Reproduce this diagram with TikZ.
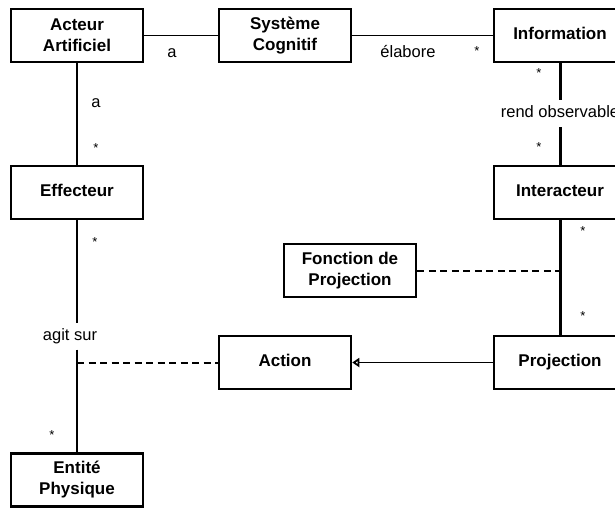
\documentclass[tikz,border=0pt]{standalone}
\usepackage{fontspec}
\setmainfont{Liberation Sans}
\usetikzlibrary{arrows.meta}
\begin{document}
\begin{tikzpicture}[x=1pt,y=-1pt,
  cls/.style={draw, line width=2.5pt, minimum width=132pt, minimum height=53pt, inner sep=0pt, align=center,
    font=\fontsize{17}{21}\selectfont\bfseries},
  cls1/.style={cls, text height=11pt, text depth=4pt},
  lbl/.style={font=\fontsize{16.5}{19}\selectfont, inner sep=0pt, anchor=base},
  gaplbl/.style={lbl, text height=12pt, text depth=5pt, inner ysep=5pt},
  mult/.style={font=\fontsize{13}{13}\selectfont, inner sep=0pt, anchor=base},
  assoc/.style={line width=1.9pt},
  vassoc/.style={line width=2.2pt},
  thickassoc/.style={line width=3pt},
  dep/.style={line width=2pt, dash pattern=on 7pt off 4.5pt}]
\useasboundingbox (0,0) rectangle (615,507);
\clip (0,0) rectangle (615,507);

% classes
\node[cls] (aa) at (77,35.5) {Acteur\\Artificiel};
\node[cls] (sc) at (285,35.5) {Système\\Cognitif};
\node[cls1] (info) at (560,35.5) {Information};
\node[cls1] (eff) at (77,192.5) {Effecteur};
\node[cls1] (inter) at (560,192.5) {Interacteur};
\node[cls] (fdp) at (350,270.5) {Fonction de\\Projection};
\node[cls1] (action) at (285,362.5) {Action};
\node[cls1] (proj) at (560,362.5) {Projection};
\node[cls] (ep) at (77,480) {Entité\\Physique};

% association labels
\node[gaplbl] (lro) at (560,117) {rend observable};
\node[gaplbl, inner ysep=4.5pt] (lags) at (70,340) {agit sur};

% associations
\draw[assoc] (aa) -- (sc);
\draw[assoc] (sc) -- (info);
\draw[vassoc] (aa.south) -- (eff.north);
\draw[thickassoc] (info.south) -- (lro.north);
\draw[thickassoc] (lro.south) -- (inter.north);
\draw[thickassoc] (inter.south) -- (proj.north);
\coordinate (agtop) at (eff.south |- lags.north);
\coordinate (agbot) at (eff.south |- lags.south);
\draw[vassoc] (eff.south) -- (agtop);
\draw[vassoc] (agbot) -- (ep.north);

% dependencies
\coordinate (agj) at (eff.south |- action.west);
\draw[dep] (agj) -- (action.west);
\coordinate (fj) at (fdp.east -| inter.south);
\draw[dep] (fdp.east) -- (fj);

% generalisation
\draw[assoc, -{Triangle[open, length=7pt, width=9pt, line width=2pt]}] (proj.west) -- (action.east);

% role labels
\node[lbl] (la1) at (172,57) {a};
\node[lbl] (lel) at (408,57) {élabore};
\node[lbl] (la2) at (96,107) {a};

% multiplicities
\node[mult] (m1) at (477,55.5) {*};
\node[mult] (m2) at (96,152.5) {*};
\node[mult] (m3) at (539,77.5) {*};
\node[mult] (m4) at (539,151.5) {*};
\node[mult] (m5) at (95,246.5) {*};
\node[mult] (m6) at (583,235.5) {*};
\node[mult] (m7) at (583,320.5) {*};
\node[mult] (m8) at (52,439.5) {*};
\end{tikzpicture}
\end{document}
